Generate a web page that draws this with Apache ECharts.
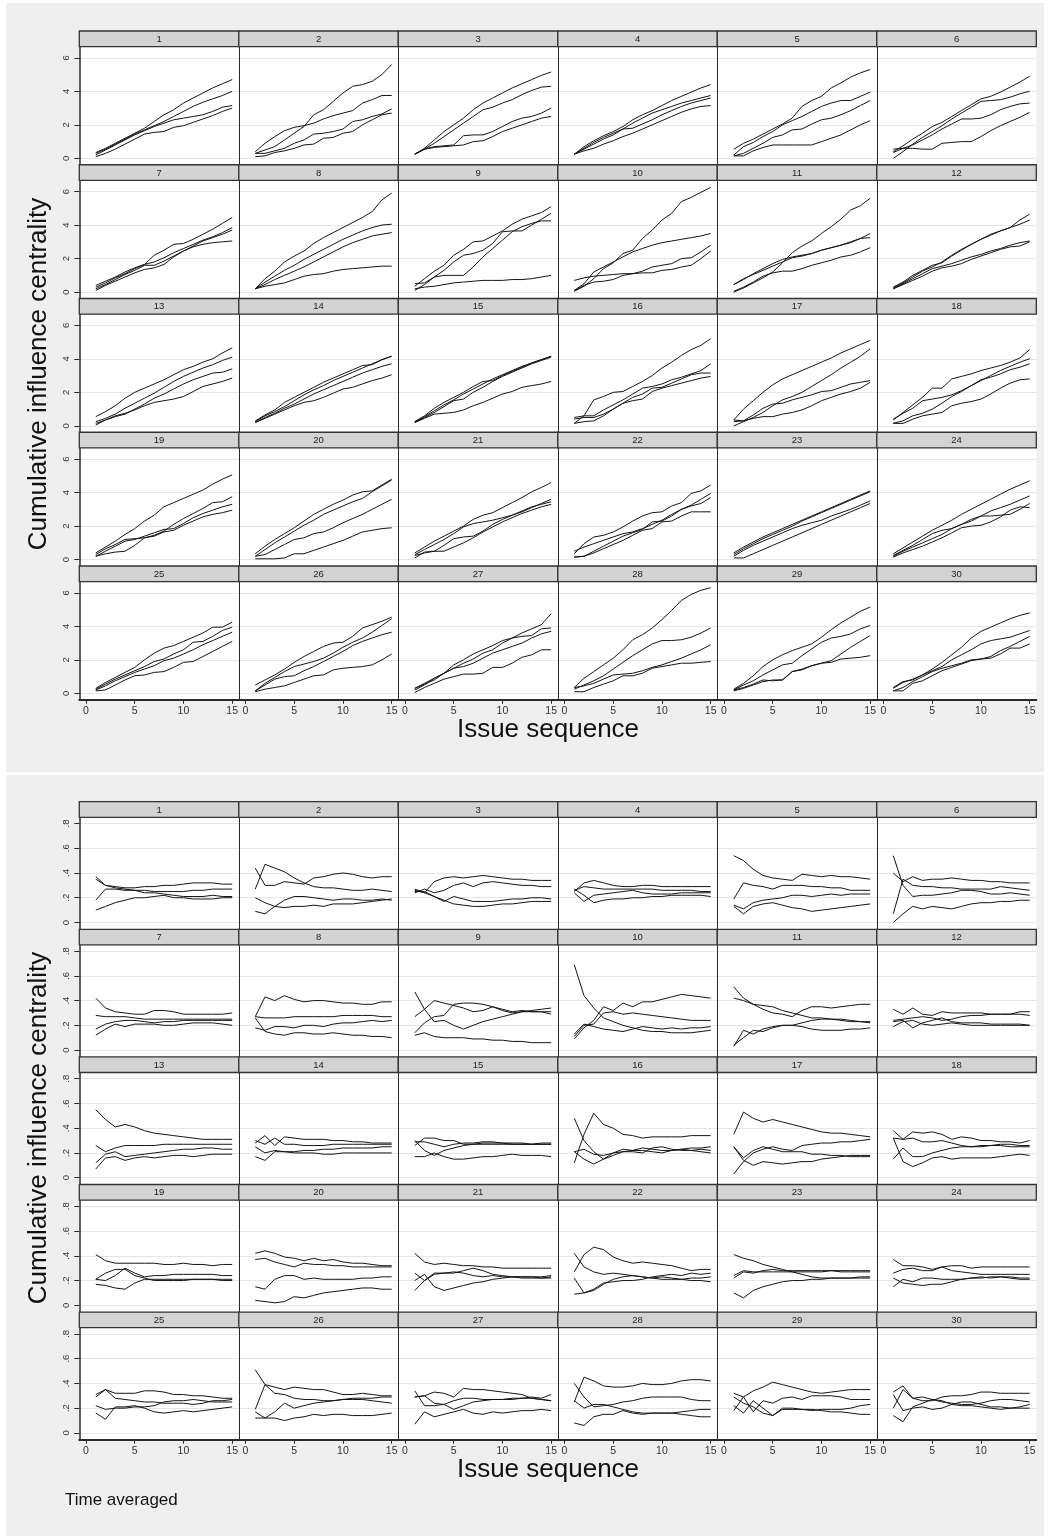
<!DOCTYPE html>
<html><head><meta charset="utf-8">
<script src="https://cdn.jsdelivr.net/npm/echarts@6/dist/echarts.min.js"></script>
<style>html,body{margin:0;padding:0;background:#fff}#c{width:1049px;height:1536px}</style>
</head><body><div id="c"></div>
<script>
// ---------- categories / tick labels ----------
const issueSeq = [1,2,3,4,5,6,7,8,9,10,11,12,13,14,15];
const panelNames = ['1','2','3','4','5','6','7','8','9','10','11','12','13','14','15','16','17','18','19','20','21','22','23','24','25','26','27','28','29','30'];
const xTickValues = [0,5,10,15];
const xTickLabels = ['0','5','10','15'];
const yTickValuesTop = [0,2,4,6];
const yTickLabelsTop = ['0','2','4','6'];
const yTickValuesBot = [0,0.2,0.4,0.6,0.8];
const yTickLabelsBot = ['0','.2','.4','.6','.8'];
const yTitle = 'Cumulative influence centrality';
const xTitle = 'Issue sequence';
const noteText = 'Time averaged';

// ---------- cumulative influence centrality (top graph) ----------
const cum01 = [[0.35,0.6,0.9,1.2,1.5,1.8,2.2,2.6,2.9,3.3,3.6,3.9,4.2,4.45,4.7],[0.3,0.55,0.85,1.15,1.45,1.7,1.95,2.2,2.5,2.8,3.1,3.35,3.55,3.75,4.0],[0.2,0.5,0.8,1.1,1.4,1.65,1.9,2.1,2.3,2.4,2.5,2.6,2.8,3.05,3.15],[0.1,0.3,0.55,0.85,1.15,1.45,1.55,1.6,1.85,1.95,2.15,2.35,2.55,2.8,3.0]];
const cum02 = [[0.3,0.5,0.7,1.1,1.5,1.9,2.6,2.9,3.4,3.9,4.3,4.4,4.6,5.0,5.6],[0.4,0.9,1.3,1.65,1.85,1.95,2.1,2.35,2.55,2.7,2.85,3.3,3.5,3.75,3.75],[0.3,0.3,0.45,0.6,0.9,1.1,1.45,1.5,1.6,1.75,2.2,2.3,2.5,2.65,2.95],[0.1,0.15,0.35,0.45,0.6,0.8,0.85,1.2,1.25,1.5,1.6,2.0,2.3,2.6,2.7]];
const cum03 = [[0.25,0.6,1.1,1.6,2.0,2.4,2.9,3.3,3.6,3.9,4.2,4.45,4.7,4.95,5.15],[0.25,0.55,0.9,1.3,1.7,2.1,2.5,2.9,3.05,3.3,3.5,3.8,4.05,4.25,4.3],[0.25,0.55,0.7,0.75,0.8,1.35,1.4,1.4,1.6,1.9,2.2,2.4,2.5,2.7,3.0],[0.25,0.55,0.65,0.7,0.75,0.8,1.0,1.05,1.3,1.6,1.8,2.0,2.2,2.4,2.5]];
const cum04 = [[0.25,0.7,1.05,1.35,1.6,1.9,2.3,2.6,2.85,3.15,3.45,3.7,3.95,4.2,4.4],[0.25,0.6,0.95,1.25,1.5,1.75,2.1,2.4,2.7,2.9,3.1,3.3,3.45,3.6,3.75],[0.25,0.55,0.85,1.15,1.4,1.75,1.8,2.05,2.3,2.6,2.85,3.1,3.3,3.45,3.6],[0.25,0.45,0.6,0.85,1.05,1.3,1.5,1.75,2.0,2.25,2.5,2.75,2.95,3.1,3.15]];
const cum05 = [[0.55,0.9,1.15,1.45,1.75,2.05,2.4,3.1,3.45,3.7,4.2,4.5,4.85,5.1,5.3],[0.2,0.7,0.95,1.3,1.6,2.0,2.25,2.5,2.8,3.1,3.3,3.45,3.45,3.7,3.95],[0.15,0.3,0.6,0.9,1.25,1.4,1.7,1.75,2.05,2.3,2.4,2.6,2.85,3.15,3.45],[0.15,0.15,0.45,0.65,0.8,0.8,0.8,0.8,0.8,1.0,1.2,1.4,1.7,2.0,2.25]];
const cum06 = [[0.4,0.75,1.15,1.5,1.9,2.15,2.5,2.85,3.2,3.55,3.7,3.95,4.25,4.55,4.9],[0.0,0.4,0.85,1.25,1.6,1.95,2.35,2.7,3.05,3.4,3.45,3.5,3.65,3.85,4.0],[0.35,0.6,0.8,1.1,1.4,1.75,2.05,2.35,2.35,2.4,2.6,2.9,3.1,3.25,3.3],[0.55,0.6,0.6,0.55,0.55,0.9,0.95,1.0,1.0,1.3,1.65,1.95,2.2,2.45,2.75]];
const cum07 = [[0.4,0.65,0.9,1.2,1.45,1.65,2.2,2.5,2.85,2.9,3.15,3.45,3.75,4.1,4.45],[0.3,0.55,0.85,1.1,1.4,1.65,1.8,2.05,2.35,2.6,2.85,3.1,3.3,3.55,3.85],[0.2,0.45,0.75,1.05,1.3,1.6,1.6,1.85,2.15,2.45,2.75,3.05,3.25,3.45,3.7],[0.1,0.4,0.65,0.9,1.15,1.35,1.45,1.65,2.1,2.45,2.7,2.85,2.95,3.0,3.05]];
const cum08 = [[0.2,0.8,1.25,1.8,2.15,2.45,2.9,3.25,3.55,3.85,4.15,4.45,4.8,5.5,5.9],[0.2,0.6,0.95,1.3,1.6,1.95,2.25,2.55,2.85,3.15,3.4,3.65,3.85,4.0,4.05],[0.2,0.45,0.75,1.0,1.25,1.5,1.8,2.1,2.4,2.7,2.95,3.15,3.35,3.45,3.55],[0.2,0.35,0.45,0.55,0.75,0.95,1.05,1.1,1.25,1.35,1.4,1.45,1.5,1.55,1.55]];
const cum09 = [[0.35,0.8,1.25,1.6,2.2,2.55,3.0,3.05,3.35,3.65,4.05,4.35,4.55,4.75,5.1],[0.1,0.45,0.9,1.3,1.8,2.2,2.3,2.5,2.9,3.6,3.65,3.65,4.0,4.35,4.7],[0.5,0.55,0.9,1.0,1.0,1.0,1.5,2.1,2.6,3.1,3.6,3.9,4.1,4.25,4.25],[0.2,0.3,0.35,0.45,0.55,0.6,0.65,0.7,0.7,0.7,0.75,0.75,0.8,0.9,1.0]];
const cum10 = [[0.05,0.35,0.8,1.4,1.75,2.3,2.5,3.2,3.7,4.3,4.7,5.4,5.65,5.95,6.25],[0.1,0.5,1.2,1.5,1.8,2.1,2.4,2.6,2.8,2.95,3.05,3.15,3.25,3.35,3.5],[0.7,0.85,0.95,1.0,1.05,1.1,1.1,1.25,1.5,1.6,1.7,2.0,2.05,2.4,2.8],[0.1,0.4,0.6,0.65,0.75,1.0,1.1,1.15,1.15,1.3,1.35,1.5,1.6,2.0,2.45]];
const cum11 = [[0.0,0.25,0.55,0.85,1.2,1.75,2.35,2.75,3.05,3.5,3.9,4.35,4.9,5.15,5.6],[0.45,0.75,1.1,1.4,1.7,1.95,2.1,2.2,2.3,2.5,2.65,2.8,3.0,3.2,3.5],[0.45,0.8,1.05,1.3,1.55,1.8,2.05,2.15,2.3,2.5,2.65,2.8,2.95,3.2,3.25],[0.05,0.3,0.6,0.95,1.15,1.25,1.25,1.4,1.6,1.75,1.9,2.1,2.2,2.4,2.65]];
const cum12 = [[0.25,0.55,0.9,1.25,1.5,1.8,2.2,2.55,2.85,3.15,3.4,3.65,3.85,4.3,4.65],[0.3,0.6,1.0,1.3,1.6,1.75,2.15,2.5,2.85,3.15,3.45,3.65,3.85,4.05,4.3],[0.2,0.5,0.8,1.1,1.4,1.55,1.7,1.9,2.1,2.25,2.45,2.6,2.8,2.95,3.05],[0.2,0.45,0.7,0.95,1.25,1.45,1.55,1.7,1.95,2.15,2.35,2.55,2.7,2.75,3.0]];
const cum13 = [[0.55,0.85,1.2,1.65,2.0,2.25,2.5,2.75,3.05,3.35,3.55,3.8,4.0,4.35,4.65],[0.25,0.45,0.7,1.05,1.35,1.65,1.95,2.3,2.65,2.95,3.2,3.45,3.65,3.9,4.1],[0.15,0.35,0.55,0.7,1.0,1.3,1.65,1.9,2.2,2.5,2.75,2.95,3.15,3.2,3.4],[0.05,0.35,0.6,0.75,0.95,1.2,1.4,1.5,1.6,1.75,2.05,2.35,2.5,2.65,2.85]];
const cum14 = [[0.3,0.65,0.95,1.4,1.7,2.0,2.3,2.6,2.85,3.1,3.35,3.6,3.65,3.95,4.15],[0.25,0.6,0.85,1.15,1.5,1.85,2.15,2.4,2.7,2.95,3.2,3.45,3.7,3.95,4.15],[0.2,0.5,0.75,1.05,1.3,1.6,1.9,2.15,2.4,2.65,2.9,3.15,3.35,3.55,3.7],[0.2,0.45,0.7,0.95,1.2,1.4,1.5,1.7,1.95,2.2,2.3,2.5,2.7,2.85,3.05]];
const cum15 = [[0.25,0.6,1.05,1.4,1.7,2.0,2.35,2.65,2.7,3.0,3.25,3.5,3.75,3.95,4.15],[0.25,0.55,0.9,1.25,1.55,1.9,2.2,2.5,2.8,3.05,3.3,3.55,3.75,3.95,4.15],[0.2,0.5,0.8,1.15,1.5,1.6,2.0,2.3,2.65,2.95,3.2,3.45,3.7,3.9,4.1],[0.2,0.45,0.7,0.75,0.8,0.95,1.2,1.4,1.65,1.9,2.05,2.3,2.4,2.5,2.65]];
const cum16 = [[0.15,0.6,1.55,1.75,2.0,2.05,2.35,2.65,3.0,3.45,3.8,4.2,4.55,4.8,5.2],[0.5,0.6,0.6,0.95,1.25,1.55,1.9,2.25,2.35,2.5,2.75,2.9,3.1,3.3,3.7],[0.4,0.5,0.5,0.7,1.0,1.35,1.7,1.9,2.25,2.3,2.55,2.8,3.05,3.15,3.15],[0.15,0.25,0.3,0.6,1.0,1.35,1.5,1.6,2.05,2.25,2.4,2.55,2.7,2.85,2.95]];
const cum17 = [[0.35,1.0,1.5,2.0,2.45,2.8,3.05,3.3,3.55,3.8,4.05,4.35,4.6,4.85,5.1],[0.0,0.25,0.5,0.8,1.2,1.55,1.75,2.0,2.35,2.7,3.05,3.45,3.8,4.15,4.6],[0.35,0.3,0.65,1.05,1.3,1.35,1.55,1.7,1.85,2.05,2.1,2.3,2.5,2.6,2.7],[0.25,0.3,0.45,0.55,0.55,0.7,0.8,0.95,1.2,1.5,1.7,1.9,2.05,2.25,2.6]];
const cum18 = [[0.35,0.8,1.25,1.7,2.25,2.25,2.8,2.95,3.1,3.3,3.45,3.6,3.8,4.05,4.55],[0.4,0.75,1.05,1.5,1.6,1.7,1.85,2.1,2.4,2.7,3.0,3.3,3.55,3.8,4.0],[0.15,0.3,0.6,0.75,1.0,1.35,1.75,2.05,2.4,2.75,2.9,3.1,3.35,3.5,3.7],[0.15,0.15,0.4,0.6,0.7,0.8,1.2,1.35,1.45,1.6,1.9,2.25,2.55,2.75,2.8]];
const cum19 = [[0.4,0.75,1.1,1.5,1.85,2.3,2.65,3.15,3.4,3.65,3.9,4.15,4.5,4.8,5.05],[0.3,0.65,0.9,1.2,1.25,1.3,1.45,1.7,2.1,2.45,2.75,3.05,3.4,3.45,3.75],[0.2,0.5,0.8,1.1,1.2,1.4,1.6,1.8,1.85,2.15,2.5,2.75,2.95,3.15,3.3],[0.2,0.35,0.45,0.5,0.85,1.3,1.4,1.65,1.75,2.05,2.3,2.55,2.7,2.8,2.95]];
const cum20 = [[0.35,0.8,1.2,1.55,1.9,2.3,2.7,3.0,3.3,3.55,3.85,4.05,4.1,4.45,4.8],[0.2,0.6,1.0,1.35,1.7,2.05,2.35,2.7,2.95,3.2,3.45,3.65,4.05,4.4,4.75],[0.2,0.3,0.6,0.9,1.2,1.3,1.55,1.65,1.9,2.2,2.45,2.7,3.0,3.3,3.6],[0.05,0.05,0.05,0.1,0.35,0.35,0.55,0.75,0.95,1.15,1.4,1.65,1.75,1.85,1.9]];
const cum21 = [[0.4,0.75,1.1,1.4,1.7,2.0,2.4,2.65,2.8,3.1,3.4,3.7,4.05,4.3,4.6],[0.3,0.6,0.9,1.2,1.55,1.95,2.15,2.25,2.35,2.5,2.65,2.85,3.1,3.35,3.6],[0.25,0.4,0.5,0.85,1.25,1.35,1.4,1.7,2.1,2.4,2.65,2.9,3.15,3.3,3.45],[0.1,0.45,0.5,0.5,0.75,1.0,1.3,1.65,1.95,2.25,2.5,2.75,2.95,3.15,3.3]];
const cum22 = [[0.35,0.95,1.35,1.45,1.65,1.95,2.3,2.6,2.8,2.85,3.2,3.4,3.95,4.1,4.45],[0.5,0.75,0.95,1.15,1.35,1.55,1.65,1.85,2.1,2.35,2.7,3.0,3.25,3.6,3.95],[0.15,0.2,0.5,0.8,1.1,1.4,1.6,1.8,2.25,2.3,2.6,3.0,3.2,3.35,3.7],[0.15,0.2,0.4,0.65,0.9,1.15,1.45,1.75,1.85,2.25,2.3,2.6,2.85,2.85,2.85]];
const cum23 = [[0.4,0.75,1.05,1.35,1.6,1.85,2.1,2.35,2.6,2.85,3.1,3.35,3.6,3.85,4.1],[0.3,0.65,0.95,1.25,1.5,1.75,2.0,2.3,2.55,2.8,3.05,3.3,3.55,3.8,4.05],[0.2,0.55,0.85,1.1,1.35,1.6,1.85,2.05,2.2,2.35,2.6,2.8,3.0,3.25,3.5],[0.1,0.1,0.35,0.6,0.85,1.1,1.35,1.6,1.85,2.1,2.35,2.6,2.85,3.1,3.35]];
const cum24 = [[0.35,0.7,1.05,1.4,1.75,2.05,2.35,2.7,3.0,3.3,3.6,3.9,4.2,4.45,4.7],[0.25,0.55,0.85,1.2,1.55,1.75,1.85,2.1,2.4,2.6,2.9,3.1,3.3,3.55,3.8],[0.2,0.5,0.75,1.0,1.25,1.5,1.85,2.1,2.3,2.6,2.6,2.65,2.7,3.0,3.35],[0.15,0.4,0.6,0.8,1.05,1.3,1.6,1.9,2.0,2.05,2.25,2.55,2.95,3.15,3.1]];
const cum25 = [[0.3,0.65,0.95,1.25,1.55,2.0,2.4,2.7,2.85,3.1,3.35,3.6,3.95,3.95,4.25],[0.25,0.55,0.85,1.1,1.35,1.6,1.9,2.05,2.35,2.6,3.05,3.1,3.4,3.75,3.95],[0.2,0.45,0.75,1.0,1.25,1.45,1.65,1.95,2.1,2.35,2.6,2.9,3.15,3.4,3.65],[0.15,0.2,0.5,0.8,1.05,1.1,1.25,1.3,1.55,1.85,1.9,2.2,2.5,2.8,3.1]];
const cum26 = [[0.5,0.8,1.1,1.45,1.85,2.2,2.5,2.8,3.0,3.05,3.4,3.9,4.1,4.3,4.55],[0.15,0.6,0.95,1.3,1.6,1.75,1.9,2.1,2.4,2.75,3.05,3.3,3.65,4.05,4.45],[0.15,0.5,0.85,1.0,1.05,1.35,1.6,1.9,2.2,2.5,2.85,3.1,3.3,3.5,3.65],[0.1,0.25,0.35,0.45,0.65,0.85,1.05,1.1,1.4,1.5,1.55,1.6,1.7,2.0,2.35]];
const cum27 = [[0.2,0.5,0.9,1.2,1.5,1.8,2.05,2.4,2.6,3.0,3.3,3.6,3.85,4.1,4.75],[0.3,0.55,0.8,1.2,1.7,2.0,2.35,2.6,2.85,3.15,3.3,3.4,3.45,3.85,3.9],[0.3,0.6,0.9,1.2,1.5,1.6,1.8,2.1,2.4,2.6,2.8,3.0,3.3,3.55,3.7],[0.05,0.35,0.6,0.85,1.0,1.15,1.15,1.2,1.55,1.55,1.8,2.15,2.3,2.6,2.6]];
const cum28 = [[0.35,0.9,1.3,1.7,2.1,2.6,3.2,3.5,3.9,4.4,4.95,5.55,5.9,6.15,6.3],[0.25,0.5,0.75,1.05,1.45,1.85,2.25,2.6,2.95,3.15,3.15,3.2,3.35,3.6,3.9],[0.35,0.45,0.6,0.85,1.1,1.15,1.2,1.35,1.55,1.7,1.9,2.1,2.35,2.6,2.9],[0.1,0.1,0.35,0.55,0.75,1.05,1.05,1.2,1.5,1.6,1.7,1.8,1.8,1.85,1.9]];
const cum29 = [[0.25,0.6,1.05,1.6,2.0,2.3,2.55,2.75,2.95,3.35,3.8,4.2,4.55,4.9,5.15],[0.2,0.5,0.75,1.1,1.4,1.7,1.8,2.25,2.65,3.05,3.3,3.4,3.55,3.85,4.05],[0.2,0.35,0.55,0.8,0.75,0.8,1.3,1.45,1.65,1.8,1.95,2.35,2.75,3.1,3.45],[0.15,0.3,0.5,0.7,0.8,0.8,1.3,1.4,1.65,1.8,1.85,2.05,2.1,2.15,2.25]];
const cum30 = [[0.35,0.7,0.8,1.1,1.45,1.85,2.3,2.75,3.3,3.7,3.95,4.2,4.45,4.65,4.8],[0.3,0.65,0.85,1.1,1.35,1.6,2.0,2.3,2.6,2.95,3.15,3.25,3.35,3.55,3.75],[0.15,0.35,0.7,1.0,1.3,1.5,1.65,1.8,2.0,2.05,2.2,2.55,2.8,3.1,3.4],[0.15,0.15,0.6,0.75,1.05,1.35,1.55,1.75,1.95,2.05,2.1,2.35,2.7,2.7,2.95]];

// ---------- time averaged (bottom graph) ----------
const avg01 = [[0.35,0.30,0.29,0.28,0.28,0.29,0.29,0.30,0.30,0.31,0.32,0.32,0.32,0.31,0.31],[0.18,0.27,0.27,0.26,0.26,0.26,0.25,0.25,0.25,0.25,0.26,0.26,0.27,0.27,0.27],[0.37,0.30,0.28,0.27,0.26,0.24,0.24,0.23,0.22,0.21,0.21,0.21,0.22,0.21,0.21],[0.10,0.13,0.16,0.18,0.20,0.20,0.21,0.22,0.20,0.20,0.19,0.19,0.19,0.20,0.20]];
const avg02 = [[0.44,0.30,0.30,0.33,0.32,0.31,0.36,0.37,0.39,0.40,0.39,0.37,0.36,0.37,0.37],[0.27,0.47,0.44,0.41,0.36,0.32,0.29,0.28,0.28,0.27,0.26,0.26,0.27,0.26,0.25],[0.20,0.16,0.13,0.12,0.13,0.13,0.14,0.13,0.15,0.15,0.15,0.16,0.17,0.18,0.19],[0.09,0.07,0.13,0.18,0.21,0.21,0.20,0.19,0.18,0.19,0.19,0.18,0.18,0.19,0.18]];
const avg03 = [[0.26,0.24,0.33,0.36,0.37,0.36,0.37,0.38,0.37,0.36,0.35,0.35,0.34,0.34,0.34],[0.24,0.27,0.24,0.26,0.30,0.32,0.29,0.32,0.33,0.32,0.31,0.30,0.30,0.29,0.29],[0.27,0.24,0.21,0.17,0.21,0.19,0.17,0.17,0.17,0.18,0.19,0.19,0.20,0.20,0.19],[0.25,0.25,0.21,0.18,0.15,0.14,0.13,0.13,0.14,0.15,0.15,0.16,0.17,0.17,0.17]];
const avg04 = [[0.25,0.32,0.34,0.32,0.30,0.29,0.29,0.30,0.30,0.29,0.29,0.29,0.29,0.29,0.29],[0.26,0.29,0.28,0.27,0.27,0.27,0.27,0.27,0.27,0.26,0.26,0.26,0.26,0.25,0.25],[0.24,0.17,0.22,0.23,0.24,0.25,0.26,0.24,0.23,0.23,0.23,0.24,0.24,0.24,0.24],[0.27,0.22,0.16,0.18,0.19,0.19,0.20,0.20,0.21,0.21,0.22,0.22,0.22,0.22,0.21]];
const avg05 = [[0.54,0.50,0.43,0.38,0.36,0.35,0.34,0.39,0.38,0.37,0.38,0.37,0.37,0.36,0.35],[0.19,0.32,0.30,0.29,0.27,0.30,0.30,0.30,0.29,0.29,0.28,0.28,0.26,0.26,0.26],[0.14,0.11,0.16,0.18,0.19,0.20,0.22,0.22,0.21,0.22,0.23,0.22,0.23,0.23,0.23],[0.13,0.07,0.13,0.15,0.16,0.14,0.12,0.11,0.09,0.10,0.11,0.12,0.13,0.14,0.15]];
const avg06 = [[0.40,0.33,0.37,0.34,0.35,0.35,0.36,0.35,0.34,0.34,0.33,0.33,0.32,0.32,0.32],[0.07,0.35,0.30,0.29,0.29,0.28,0.28,0.27,0.27,0.27,0.27,0.29,0.28,0.27,0.26],[0.54,0.30,0.21,0.22,0.22,0.23,0.24,0.26,0.26,0.25,0.23,0.23,0.24,0.23,0.22],[0.00,0.07,0.13,0.11,0.13,0.12,0.11,0.13,0.15,0.16,0.16,0.17,0.17,0.18,0.18]];
const avg07 = [[0.42,0.34,0.31,0.30,0.29,0.29,0.32,0.32,0.31,0.29,0.29,0.29,0.29,0.29,0.30],[0.28,0.27,0.27,0.27,0.26,0.25,0.25,0.25,0.25,0.25,0.25,0.25,0.25,0.25,0.25],[0.17,0.21,0.23,0.24,0.24,0.23,0.22,0.23,0.23,0.24,0.24,0.24,0.24,0.24,0.24],[0.12,0.17,0.21,0.19,0.21,0.21,0.21,0.20,0.20,0.21,0.22,0.22,0.22,0.21,0.20]];
const avg08 = [[0.27,0.43,0.40,0.44,0.41,0.39,0.40,0.40,0.39,0.38,0.38,0.37,0.37,0.39,0.39],[0.27,0.26,0.26,0.26,0.27,0.27,0.27,0.27,0.27,0.28,0.28,0.28,0.28,0.27,0.27],[0.18,0.16,0.19,0.19,0.18,0.20,0.20,0.19,0.21,0.22,0.22,0.23,0.24,0.23,0.24],[0.26,0.15,0.13,0.12,0.14,0.14,0.13,0.13,0.14,0.13,0.12,0.12,0.11,0.11,0.10]];
const avg09 = [[0.47,0.33,0.23,0.24,0.20,0.17,0.20,0.23,0.25,0.27,0.29,0.31,0.31,0.31,0.31],[0.27,0.33,0.40,0.38,0.36,0.34,0.31,0.32,0.35,0.33,0.31,0.32,0.31,0.31,0.29],[0.14,0.22,0.27,0.28,0.37,0.38,0.38,0.37,0.35,0.32,0.30,0.31,0.32,0.33,0.34],[0.12,0.14,0.11,0.10,0.10,0.10,0.09,0.09,0.08,0.08,0.07,0.07,0.06,0.06,0.06]];
const avg10 = [[0.69,0.44,0.34,0.26,0.23,0.20,0.18,0.16,0.15,0.15,0.14,0.14,0.14,0.15,0.16],[0.09,0.18,0.24,0.35,0.32,0.38,0.35,0.39,0.39,0.41,0.43,0.45,0.44,0.43,0.42],[0.11,0.20,0.21,0.30,0.31,0.29,0.30,0.29,0.28,0.27,0.26,0.25,0.24,0.24,0.24],[0.13,0.21,0.19,0.17,0.16,0.15,0.17,0.19,0.18,0.17,0.18,0.17,0.18,0.18,0.19]];
const avg11 = [[0.51,0.42,0.37,0.36,0.35,0.32,0.30,0.28,0.26,0.26,0.25,0.24,0.23,0.23,0.22],[0.42,0.40,0.37,0.33,0.30,0.29,0.27,0.32,0.35,0.35,0.34,0.35,0.36,0.37,0.37],[0.03,0.16,0.13,0.17,0.19,0.20,0.20,0.19,0.17,0.16,0.16,0.16,0.17,0.17,0.18],[0.04,0.10,0.16,0.15,0.18,0.20,0.20,0.22,0.24,0.25,0.25,0.25,0.24,0.23,0.23]];
const avg12 = [[0.33,0.29,0.34,0.29,0.28,0.31,0.30,0.30,0.30,0.30,0.29,0.29,0.29,0.31,0.31],[0.24,0.25,0.26,0.27,0.26,0.24,0.25,0.27,0.28,0.28,0.29,0.29,0.29,0.29,0.28],[0.23,0.24,0.18,0.22,0.24,0.26,0.23,0.22,0.22,0.22,0.21,0.21,0.21,0.21,0.20],[0.19,0.23,0.24,0.21,0.20,0.21,0.22,0.21,0.20,0.20,0.20,0.20,0.20,0.20,0.20]];
const avg13 = [[0.55,0.47,0.41,0.43,0.41,0.38,0.36,0.35,0.34,0.33,0.32,0.31,0.31,0.31,0.31],[0.26,0.21,0.24,0.26,0.26,0.26,0.26,0.27,0.27,0.27,0.27,0.27,0.27,0.27,0.27],[0.12,0.19,0.21,0.17,0.18,0.19,0.20,0.21,0.22,0.23,0.23,0.24,0.24,0.23,0.23],[0.07,0.16,0.17,0.14,0.16,0.17,0.16,0.17,0.18,0.18,0.17,0.18,0.19,0.19,0.19]];
const avg14 = [[0.28,0.34,0.26,0.33,0.32,0.31,0.31,0.31,0.30,0.30,0.29,0.29,0.28,0.28,0.28],[0.30,0.27,0.32,0.27,0.27,0.26,0.26,0.26,0.27,0.27,0.27,0.27,0.27,0.27,0.27],[0.25,0.20,0.22,0.21,0.21,0.22,0.22,0.23,0.23,0.24,0.24,0.24,0.24,0.25,0.25],[0.17,0.14,0.21,0.21,0.20,0.20,0.20,0.19,0.19,0.20,0.20,0.20,0.20,0.20,0.20]];
const avg15 = [[0.26,0.32,0.32,0.30,0.30,0.27,0.27,0.27,0.27,0.27,0.27,0.27,0.27,0.27,0.27],[0.29,0.29,0.27,0.25,0.27,0.28,0.28,0.29,0.29,0.28,0.28,0.28,0.27,0.28,0.28],[0.30,0.22,0.18,0.22,0.24,0.26,0.27,0.28,0.28,0.28,0.27,0.27,0.27,0.27,0.27],[0.17,0.17,0.20,0.17,0.15,0.15,0.16,0.17,0.17,0.18,0.19,0.18,0.18,0.18,0.17]];
const avg16 = [[0.12,0.35,0.52,0.43,0.40,0.35,0.34,0.32,0.33,0.33,0.33,0.33,0.34,0.34,0.34],[0.48,0.30,0.21,0.15,0.18,0.21,0.22,0.24,0.23,0.22,0.22,0.23,0.24,0.24,0.25],[0.21,0.15,0.11,0.15,0.20,0.23,0.22,0.22,0.21,0.20,0.22,0.23,0.22,0.21,0.20],[0.21,0.23,0.19,0.18,0.20,0.21,0.21,0.20,0.24,0.25,0.23,0.22,0.22,0.23,0.22]];
const avg17 = [[0.35,0.53,0.48,0.45,0.47,0.45,0.43,0.41,0.39,0.37,0.36,0.36,0.35,0.34,0.33],[0.03,0.13,0.20,0.23,0.25,0.23,0.22,0.26,0.27,0.28,0.28,0.29,0.29,0.30,0.31],[0.25,0.16,0.22,0.25,0.23,0.21,0.21,0.21,0.19,0.19,0.18,0.18,0.17,0.17,0.17],[0.25,0.14,0.10,0.13,0.12,0.11,0.12,0.13,0.13,0.15,0.16,0.17,0.18,0.18,0.18]];
const avg18 = [[0.38,0.31,0.37,0.36,0.37,0.35,0.31,0.33,0.32,0.30,0.30,0.29,0.29,0.28,0.30],[0.32,0.31,0.32,0.29,0.29,0.30,0.28,0.26,0.25,0.25,0.26,0.27,0.27,0.26,0.26],[0.15,0.24,0.17,0.17,0.20,0.22,0.24,0.25,0.25,0.26,0.26,0.26,0.25,0.25,0.25],[0.32,0.13,0.09,0.12,0.16,0.17,0.15,0.16,0.16,0.16,0.16,0.17,0.18,0.19,0.18]];
const avg19 = [[0.41,0.36,0.34,0.34,0.34,0.34,0.34,0.33,0.33,0.34,0.33,0.33,0.32,0.33,0.33],[0.21,0.26,0.29,0.29,0.24,0.22,0.20,0.20,0.20,0.20,0.21,0.21,0.21,0.21,0.21],[0.21,0.20,0.24,0.30,0.26,0.23,0.24,0.24,0.25,0.25,0.25,0.25,0.25,0.24,0.24],[0.17,0.16,0.14,0.13,0.18,0.21,0.21,0.21,0.21,0.21,0.21,0.21,0.21,0.20,0.20]];
const avg20 = [[0.42,0.44,0.42,0.39,0.38,0.36,0.38,0.36,0.37,0.35,0.34,0.34,0.33,0.32,0.32],[0.37,0.38,0.35,0.33,0.31,0.34,0.33,0.33,0.32,0.32,0.31,0.31,0.31,0.31,0.31],[0.15,0.13,0.21,0.24,0.24,0.21,0.22,0.21,0.21,0.21,0.21,0.22,0.22,0.23,0.23],[0.04,0.03,0.02,0.03,0.07,0.06,0.08,0.10,0.11,0.12,0.13,0.14,0.14,0.13,0.13]];
const avg21 = [[0.42,0.35,0.33,0.34,0.33,0.32,0.32,0.31,0.31,0.30,0.30,0.30,0.30,0.30,0.30],[0.26,0.20,0.25,0.26,0.26,0.28,0.30,0.28,0.25,0.24,0.23,0.23,0.23,0.22,0.23],[0.12,0.20,0.26,0.26,0.27,0.26,0.24,0.23,0.24,0.23,0.23,0.22,0.22,0.22,0.22],[0.20,0.25,0.15,0.12,0.14,0.16,0.18,0.19,0.21,0.22,0.23,0.23,0.23,0.23,0.24]];
const avg22 = [[0.27,0.41,0.47,0.45,0.39,0.36,0.34,0.35,0.34,0.33,0.32,0.30,0.28,0.29,0.29],[0.42,0.31,0.27,0.25,0.26,0.25,0.24,0.23,0.22,0.23,0.22,0.21,0.20,0.20,0.19],[0.22,0.10,0.12,0.17,0.21,0.23,0.24,0.23,0.22,0.21,0.21,0.21,0.22,0.22,0.23],[0.09,0.10,0.13,0.18,0.19,0.20,0.20,0.21,0.23,0.24,0.25,0.24,0.26,0.25,0.26]];
const avg23 = [[0.41,0.38,0.36,0.33,0.31,0.29,0.27,0.25,0.23,0.22,0.22,0.22,0.22,0.22,0.22],[0.22,0.27,0.26,0.28,0.29,0.28,0.28,0.28,0.28,0.28,0.28,0.27,0.27,0.27,0.27],[0.24,0.28,0.27,0.27,0.27,0.27,0.27,0.27,0.27,0.27,0.28,0.28,0.28,0.28,0.28],[0.10,0.06,0.12,0.15,0.17,0.19,0.20,0.20,0.21,0.21,0.22,0.22,0.22,0.23,0.23]];
const avg24 = [[0.37,0.32,0.32,0.31,0.29,0.31,0.32,0.32,0.30,0.31,0.31,0.31,0.31,0.31,0.31],[0.26,0.29,0.30,0.28,0.28,0.31,0.28,0.27,0.26,0.25,0.25,0.25,0.25,0.25,0.25],[0.15,0.21,0.19,0.22,0.22,0.21,0.21,0.21,0.22,0.23,0.22,0.23,0.23,0.22,0.22],[0.22,0.18,0.17,0.16,0.17,0.17,0.19,0.21,0.22,0.22,0.23,0.23,0.22,0.21,0.21]];
const avg25 = [[0.29,0.35,0.32,0.32,0.32,0.34,0.34,0.33,0.31,0.31,0.30,0.30,0.29,0.28,0.28],[0.31,0.35,0.28,0.27,0.26,0.25,0.25,0.24,0.24,0.24,0.23,0.24,0.26,0.26,0.27],[0.22,0.19,0.20,0.20,0.21,0.21,0.22,0.25,0.26,0.26,0.27,0.26,0.25,0.25,0.25],[0.16,0.11,0.21,0.21,0.22,0.20,0.17,0.16,0.17,0.18,0.17,0.18,0.19,0.20,0.21]];
const avg26 = [[0.51,0.39,0.32,0.31,0.28,0.27,0.27,0.26,0.26,0.27,0.27,0.27,0.26,0.25,0.24],[0.19,0.39,0.37,0.35,0.37,0.36,0.35,0.35,0.33,0.31,0.31,0.32,0.31,0.30,0.30],[0.17,0.12,0.17,0.24,0.20,0.22,0.24,0.25,0.26,0.27,0.28,0.28,0.28,0.29,0.29],[0.12,0.12,0.12,0.10,0.12,0.13,0.15,0.14,0.15,0.15,0.14,0.14,0.14,0.15,0.16]];
const avg27 = [[0.34,0.22,0.22,0.23,0.26,0.28,0.28,0.27,0.27,0.27,0.27,0.28,0.29,0.28,0.31],[0.29,0.30,0.33,0.32,0.29,0.36,0.35,0.35,0.34,0.33,0.32,0.31,0.28,0.27,0.26],[0.29,0.30,0.24,0.23,0.19,0.22,0.25,0.26,0.27,0.27,0.28,0.28,0.28,0.27,0.26],[0.07,0.17,0.13,0.15,0.17,0.19,0.16,0.15,0.17,0.16,0.17,0.18,0.18,0.19,0.18]];
const avg28 = [[0.25,0.45,0.42,0.38,0.37,0.37,0.38,0.40,0.39,0.39,0.40,0.42,0.43,0.43,0.42],[0.40,0.29,0.21,0.22,0.23,0.25,0.26,0.28,0.29,0.29,0.29,0.29,0.27,0.26,0.26],[0.26,0.20,0.23,0.23,0.21,0.19,0.17,0.16,0.16,0.16,0.16,0.17,0.18,0.19,0.19],[0.08,0.06,0.13,0.15,0.15,0.18,0.16,0.15,0.16,0.16,0.16,0.15,0.14,0.13,0.13]];
const avg29 = [[0.18,0.29,0.34,0.37,0.41,0.39,0.37,0.35,0.33,0.32,0.33,0.34,0.35,0.35,0.35],[0.32,0.29,0.17,0.26,0.24,0.28,0.29,0.27,0.30,0.30,0.30,0.29,0.27,0.27,0.27],[0.29,0.24,0.21,0.16,0.14,0.19,0.19,0.19,0.18,0.19,0.19,0.19,0.20,0.22,0.23],[0.22,0.16,0.26,0.20,0.14,0.20,0.20,0.19,0.19,0.18,0.17,0.17,0.16,0.15,0.15]];
const avg30 = [[0.33,0.38,0.28,0.26,0.26,0.29,0.30,0.30,0.31,0.33,0.33,0.32,0.32,0.32,0.32],[0.20,0.35,0.28,0.29,0.27,0.25,0.24,0.23,0.23,0.24,0.26,0.27,0.27,0.26,0.25],[0.31,0.18,0.20,0.21,0.19,0.20,0.23,0.25,0.25,0.23,0.21,0.21,0.20,0.21,0.23],[0.14,0.09,0.21,0.24,0.27,0.26,0.23,0.22,0.22,0.21,0.20,0.19,0.20,0.20,0.20]];

const cumulativeSets = [cum01,cum02,cum03,cum04,cum05,cum06,cum07,cum08,cum09,cum10,cum11,cum12,cum13,cum14,cum15,cum16,cum17,cum18,cum19,cum20,cum21,cum22,cum23,cum24,cum25,cum26,cum27,cum28,cum29,cum30];
const averagedSets = [avg01,avg02,avg03,avg04,avg05,avg06,avg07,avg08,avg09,avg10,avg11,avg12,avg13,avg14,avg15,avg16,avg17,avg18,avg19,avg20,avg21,avg22,avg23,avg24,avg25,avg26,avg27,avg28,avg29,avg30];

// ---------- layout (pixels) ----------
const FONT = '"Liberation Sans", Arial, Helvetica, sans-serif';
const LEFT0 = 79.3, COLW = 159.5;
const graphs = [
  {sets: cumulativeSets, hTop: 31, pitch: 133.75, hH: 15.7, ymin: -0.38, ymax: 6.66, yt: yTickValuesTop, yl: yTickLabelsTop, bgY: 3, bgH: 769, titleY: 730, yTitleY: 374},
  {sets: averagedSets, hTop: 801.7, pitch: 127.6, hH: 15.6, ymin: -0.055, ymax: 0.85, yt: yTickValuesBot, yl: yTickLabelsBot, bgY: 775, bgH: 761, titleY: 1470, yTitleY: 1128}
];

const grid = [], xAxis = [], yAxis = [], series = [], graphic = [];
graphs.forEach((g, gi) => {
  graphic.push({type:'rect', z:-10, silent:true, shape:{x:6, y:g.bgY, width:1038, height:g.bgH}, style:{fill:'#efefef'}});
  g.sets.forEach((lines, i) => {
    const r = Math.floor(i / 6), c = i % 6;
    const idx = grid.length;
    const hy = g.hTop + r * g.pitch;
    const plotTop = hy + g.hH, plotH = g.pitch - g.hH;
    const left = LEFT0 + c * COLW;
    grid.push({left: left, top: plotTop, width: COLW, height: plotH, show: true, backgroundColor: '#ffffff', borderWidth: 0, outerBoundsMode: 'none', containLabel: false});
    const bottomRow = r === 4;
    xAxis.push({
      type: 'value', gridIndex: idx, min: -0.69, max: 15.68,
      axisLine: {show: bottomRow, onZero: false, lineStyle: {color: '#2a2a2a', width: 2}},
      axisTick: {show: bottomRow, length: 4, customValues: xTickValues, lineStyle: {color: '#2a2a2a', width: 1}},
      axisLabel: {show: bottomRow, customValues: xTickValues, margin: 6, color: '#333', fontSize: 10.5, fontFamily: FONT,
                  formatter: v => xTickLabels[xTickValues.indexOf(v)] ?? ''},
      splitLine: {show: false}
    });
    yAxis.push({
      type: 'value', gridIndex: idx, min: g.ymin, max: g.ymax,
      axisLine: {show: true, onZero: false, lineStyle: {color: '#2a2a2a', width: c === 0 ? 1.5 : 1}},
      axisTick: {show: c === 0, length: 5, customValues: g.yt, lineStyle: {color: '#2a2a2a', width: 1}},
      axisLabel: {show: c === 0, customValues: g.yt, rotate: 90, margin: 8, color: '#333', fontSize: 9.5, fontFamily: FONT,
                  formatter: v => { const k = g.yt.findIndex(t => Math.abs(t - v) < 1e-9); return k >= 0 ? g.yl[k] : ''; }},
      splitLine: {show: true, lineStyle: {color: '#e6e6e6', width: 1}}
    });
    lines.forEach(vals => {
      series.push({
        type: 'line', xAxisIndex: idx, yAxisIndex: idx, silent: true,
        showSymbol: false, symbol: 'none', smooth: false, animation: false,
        lineStyle: {color: '#141414', width: 1},
        data: vals.map((v, k) => [issueSeq[k], v])
      });
    });
    graphic.push({type:'rect', z:5, silent:true, shape:{x:left, y:hy, width:COLW, height:g.hH},
                  style:{fill:'#d3d3d3', stroke:'#333', lineWidth:1.3}});
    graphic.push({type:'text', z:6, silent:true, x: left + COLW / 2, y: hy + g.hH / 2 + 0.5,
                  style:{text: panelNames[i], fill:'#222', font: '9.5px ' + FONT, align:'center', verticalAlign:'middle'}});
  });
  graphic.push({type:'text', z:6, silent:true, x: 548, y: g.titleY,
                style:{text: xTitle, fill:'#111', font: '26px ' + FONT, align:'center', verticalAlign:'middle'}});
  graphic.push({type:'text', z:6, silent:true, x: 39, y: g.yTitleY, rotation: Math.PI / 2,
                style:{text: yTitle, fill:'#111', font: '26px ' + FONT, align:'center', verticalAlign:'middle'}});
});
graphic.push({type:'text', z:6, silent:true, x: 65, y: 1500,
              style:{text: noteText, fill:'#111', font: '17px ' + FONT, align:'left', verticalAlign:'middle'}});

const chart = echarts.init(document.getElementById('c'), null, {renderer: 'canvas'});
chart.setOption({
  backgroundColor: '#ffffff',
  animation: false,
  grid, xAxis, yAxis, series, graphic
});
</script>
</body></html>
